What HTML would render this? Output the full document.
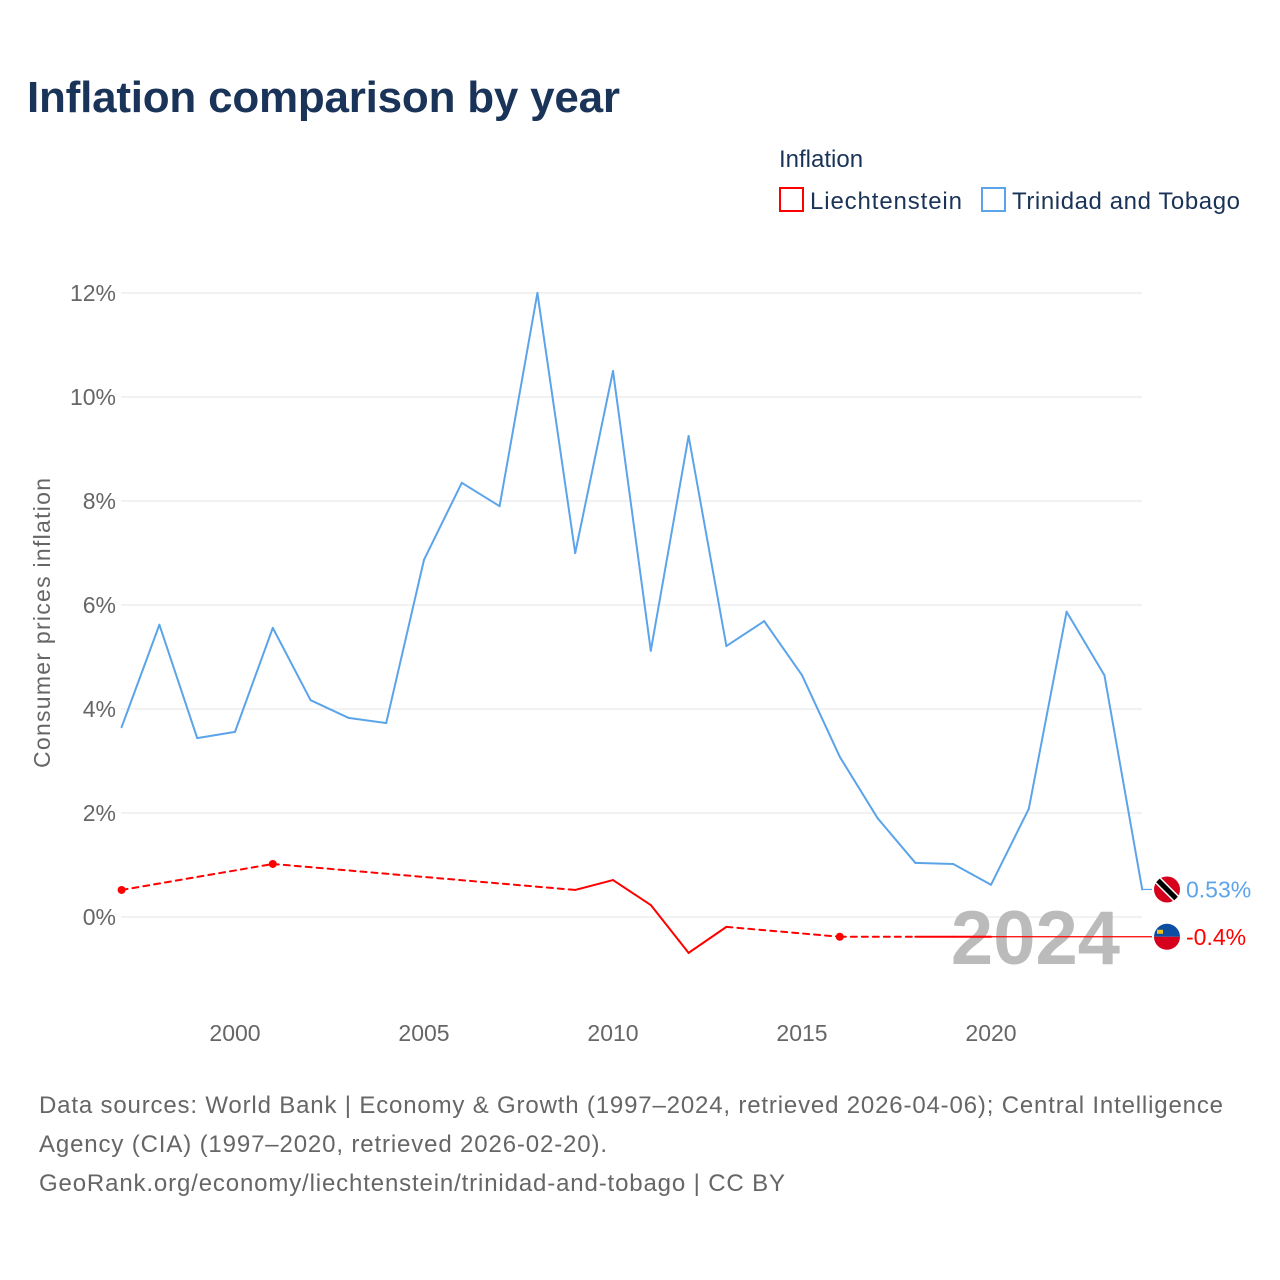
<!DOCTYPE html>
<html><head><meta charset="utf-8"><style>
body{margin:0;background:#fff;font-family:"Liberation Sans",sans-serif;}
#wrap{position:relative;width:1280px;height:1280px;overflow:hidden}
</style></head><body>
<div id="wrap">
<svg id="chart" width="1280" height="1280" xmlns="http://www.w3.org/2000/svg">
<text x="27" y="112" font-size="44" font-weight="bold" fill="#1a3358" textLength="593">Inflation comparison by year</text>
<text x="779" y="167" font-size="24" fill="#1a3358">Inflation</text>
<g><rect x="780" y="188" width="23" height="23" fill="none" stroke="#f00" stroke-width="2"/><text x="810" y="209" font-size="24" fill="#1a3358" textLength="152">Liechtenstein</text></g>
<g><rect x="982" y="188" width="23" height="23" fill="none" stroke="#5ba4ea" stroke-width="2"/><text x="1012" y="209" font-size="24" fill="#1a3358" textLength="228">Trinidad and Tobago</text></g>
<text transform="translate(50,623) rotate(-90)" text-anchor="middle" font-size="23" fill="#666" textLength="290">Consumer prices inflation</text>
<g id="grid"></g><g id="yt"></g><g id="xt"></g>
<text x="1120" y="964" text-anchor="end" font-size="76" font-weight="bold" fill="#bbb">2024</text>
<g id="series"></g>
<text x="39" y="1113" font-size="24" fill="#666" textLength="1184">Data sources: World Bank | Economy &amp; Growth (1997–2024, retrieved 2026-04-06); Central Intelligence</text>
<text x="39" y="1152" font-size="24" fill="#666" textLength="568">Agency (CIA) (1997–2020, retrieved 2026-02-20).</text>
<text x="39" y="1191" font-size="24" fill="#666" textLength="746">GeoRank.org/economy/liechtenstein/trinidad-and-tobago | CC BY</text>
</svg></div>
<script>
const years=[1997,1998,1999,2000,2001,2002,2003,2004,2005,2006,2007,2008,2009,2010,2011,2012,2013,2014,2015,2016,2017,2018,2019,2020,2021,2022,2023,2024];
const tto=[3.65,5.62,3.44,3.56,5.56,4.17,3.83,3.73,6.87,8.35,7.9,12.0,7.0,10.5,5.12,9.25,5.21,5.69,4.65,3.08,1.9,1.04,1.02,0.62,2.08,5.87,4.65,0.53];
const lie=[0.52,null,null,null,1.02,null,null,null,null,null,null,null,0.52,0.71,0.23,-0.69,-0.19,null,null,-0.38,null,-0.38,-0.38,-0.38,null,null,null,null];
const yTicks=[0,2,4,6,8,10,12];
const xTicks=[2000,2005,2010,2015,2020];
const X=y=>121.6+(y-1997)*37.8, Y=v=>917-v*52;
const NS="http://www.w3.org/2000/svg";
function mk(p,t,a){const e=document.createElementNS(NS,t);for(const k in a)e.setAttribute(k,a[k]);p.appendChild(e);return e;}
const grid=document.getElementById('grid'),yt=document.getElementById('yt'),xt=document.getElementById('xt'),ser=document.getElementById('series');
yTicks.forEach(v=>{
 const l=mk(grid,'line',{x1:121,x2:1142,y1:Y(v),y2:Y(v),stroke:'#e6e6e6','stroke-width':1});
 
 
 const t=mk(yt,'text',{x:116,y:Y(v)+8,'text-anchor':'end','font-size':23,fill:'#666'});t.textContent=v+'%';
 
 
});
xTicks.forEach(v=>{
 const t=mk(xt,'text',{x:X(v),y:1041,'text-anchor':'middle','font-size':23,fill:'#666'});t.textContent=v;
 
 
});
function draw(vals,color,name,endVal){
 const g=mk(ser,'g',{});
 
 
 const idx=vals.map((v,i)=>v==null?null:i).filter(i=>i!=null);
 for(let k=0;k<idx.length-1;k++){
  const a=idx[k],b=idx[k+1];
  mk(g,'line',{x1:X(years[a]),y1:Y(vals[a]),x2:X(years[b]),y2:Y(vals[b]),stroke:color,'stroke-width':2,'stroke-dasharray':b-a>1?'6,5':'none','stroke-linecap':'round'});
 }
 idx.forEach((i,k)=>{
  const prevC=vals[i-1]!=null&&i>0, nextC=vals[i+1]!=null&&i<vals.length-1;
  if(!prevC&&!nextC){const c=mk(g,'circle',{cx:X(years[i]),cy:Y(vals[i]),r:4,fill:color});
   
   }
 });
 const last=idx[idx.length-1];
 mk(g,'line',{x1:X(years[last]),y1:Y(vals[last]),x2:1152,y2:Y(endVal),stroke:color,'stroke-width':1.2});
 return g;
}
draw(tto,'#5ba4ea','trinidad',tto[tto.length-1]);
draw(lie,'#f00','liechtenstein',-0.38);
const tY=Y(tto[tto.length-1]), lY=Y(-0.38);
const f1=mk(ser,'g',{});


mk(f1,'circle',{cx:1167,cy:tY,r:13,fill:'#d6001c'});
mk(f1,'line',{x1:1158,y1:tY-9,x2:1176,y2:tY+9,stroke:'#fff',"stroke-width":8});
mk(f1,'line',{x1:1158,y1:tY-9,x2:1176,y2:tY+9,stroke:'#000',"stroke-width":5});
const t1=mk(ser,'text',{x:1186,y:tY+8,'font-size':23,fill:'#5ba4ea'});t1.textContent='0.53%';


const f2=mk(ser,'g',{});


mk(f2,'path',{d:`M1154 ${lY} A13 13 0 0 1 1180 ${lY} Z`,fill:'#0b4ea2'});
mk(f2,'path',{d:`M1154 ${lY} A13 13 0 0 0 1180 ${lY} Z`,fill:'#d6001c'});
mk(f2,'rect',{x:1157,y:lY-7,width:6,height:4,fill:'#f0c020'});
const t2=mk(ser,'text',{x:1186,y:lY+8,'font-size':23,fill:'#f00'});t2.textContent='-0.4%';


</script>
</body></html>
